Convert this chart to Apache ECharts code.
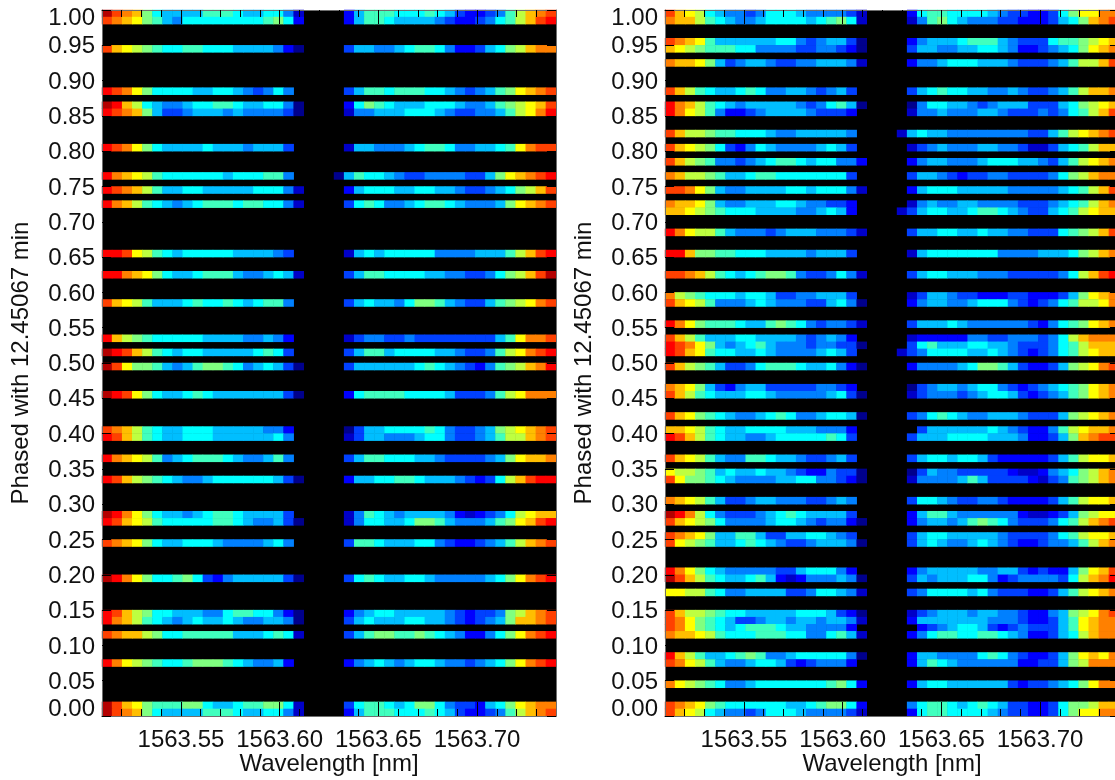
<!DOCTYPE html>
<html><head><meta charset="utf-8">
<style>html,body{margin:0;padding:0;background:#fff}#c{width:1115px;height:780px}</style>
<script src="https://cdn.jsdelivr.net/npm/echarts@6/dist/echarts.min.js"></script>
</head><body><div id="c"></div>
<script>
// Intensity per cell, one hex digit (0..f) on the jet scale, "." = no data.
const columnCount = 45, binCount = 100;
const leftBins = [99,98,94,88,86,85,80,76,74,72,65,62,58,53,51,49,45,40,39,36,33,28,27,24,19,14,13,11,7,1,0];
const leftBlueWing = ["fdcb8655557776556641","dcba8754666666667862","dba98766776665555420","edca866665566543464.","feb96544566776556640","edcb8533455545444430","edca865555655545553.","ecba976666665666774.","edcb9755665555566641","ecb97654567776776641","eeda976566666555543.","eecba865567775445651","dba9755567667656774.","eb98766666555544542.","fedb976566555556763.","fda88754578876456530","feda8655676555555530","dcb9765566655555442.","edb9765566655555564.","ecba974567776544574.","edb98765445666666530","feca865545677655553.","edba9766666776544530","dcba865566654444564.","feca8667863245555530","edb98665554467766420","ecb97654565565445540","dcbb9866777775556761","eca9876678887654452.","fdba8777886556778861","fdcb8655557776556641"];
const leftRedWing = ["257776667653223479bcd","257765555432234679bde","355445677642235689bcc","35776777665434578abcd","268765556665445789abd","144555666543344579ace","15544456776445567acdd","05766543344443358abcde","2566655665543345689bd","36764456776544458abcd","156566666444455579bde","357766665544334689bdf","356554688754335789acd","13443343333333357accd","35775666655433479acde","355555567654324789bce","26777766665333479accc","03556666764334589abcd","135544456643345799bcd","35776665543333458abbc","25566776555432369bdee","147654555542123469abb","14665568875444578abde","377655566432234579bcd","36765566544444568acde","245665555543233489bcd","35655566554323458bbcd","35788778765422468acde","24565456654434568acde","36776568864332568abcc","257776667653223479bcd"];
const rightBins = [99,98,95,94,92,88,86,85,82,80,78,76,74,72,71,68,65,62,59,58,55,53,52,51,49,46,45,42,40,39,36,34,33,30,28,27,25,24,20,19,17,14,13,12,11,8,7,4,1,0];
const rightBlueWing = ["dba96544346665444431","cbb97654456666567861","dcba7555555664345530","ba987776644443344320","cbba8534554334455541","db97655676445543453.","ecb97654555554346750","eca9742234555543332.","db99877666544555554.","dba9863246544445653.","db987443456776566442","cb99875567766666663.","ddca8544555566566641","cbba854455566544332.","bba9876665555445652.","eca99754443455544431","eeb8877666555545553.","ddcb9765678874334641","c987666566533445553.","dba97444565444335640","eca87776557876434431","db97555665555434542.","edca8545675444344330","edba766556544445653.","db987533467776556420","cba8532455333334432.","db976555665444445630","dba87654456764456650","bba9765566665554442.","edb9765544566666763.","dba9754477655433453.","a9987565565543224330","da887654444556644320","cba9753345544433454.","fec9643334567655553.","dba98644445665434420","dcba855775335566543.","da987556765433455540","eca8654444433566642.","fdb97655675212444540","aa997644555533466541","db998766555556665320","dca87653345545545541","dca8765677765544442.","cbba9766677766446751","eb975567874456666640","dca9754456653234442.","ca987644566666667862","dcba8766666655678862","dba96544346665444431"];
const rightRedWing = ["26776666543322368aacc","147865444332223568bcd","2455567775433367789ab","355445566542234568abc","2445666555433345799bd","356766554454334579bbc","0466554345553335689ab","1445444554333434679bd","156554444444433579abcd","1345444554431135679bb","245544456665543579abc","355432334433334689bcc","2566655555444445679bd","1454455444433345679bc","1356655677654335679abb","3556655655443336789bd","1566666664444555689bc","356655544433333469bde","135543322233222358abc","2455445666432346799ac","355565444444324678abc","12222244334443469bccc","367555665543334679bbb","1346666556543234679abb","244445688753223589acd","034554566432345678abc","134443456653234578abc","346765445554333589abc",".3555555654322479abbc","35556666555422358bcdd","356656653222223579aab","0354433333211245689bc","1444457533332134789bc","366543344322223579aab","2577544444421123589aa","245545787643334679bcd","356655555433334679aab","3565445654322344579bc","245555544553232258abd","354555664234444369bce","346666564333223579abc","134555455443224589acd","25555555444322357abcc",".2345665323433357abcc","246776677654223569bcc","25544446764322358abac","257654444442233589ccc","256655555532334568acc","4677656765332236889bb","26776666543322368aacc"];
const wavelengthLabels = [1563.55,1563.60,1563.65,1563.70];
const wavelengthMinor = [1563.52,1563.53,1563.54,1563.56,1563.57,1563.58,1563.59,1563.61,1563.62,1563.63,1563.64,1563.66,1563.67,1563.68,1563.69,1563.71,1563.72,1563.73];
const wavelengthMin = 1563.51, wavelengthMax = 1563.74;
const xTitle = "Wavelength [nm]", yTitle = "Phased with 12.45067 min";
const jet = ['#00008c','#0000c8','#0000ff','#0040ff','#0080ff','#00beff','#00ffff','#40ffbe','#80ff80','#beff40','#ffff00','#ffbe00','#ff8000','#ff4000','#ff0000','#b40000'];

function cells(bins, blue, red){
  const out = [];
  bins.forEach((bin, i) => {
    [...blue[i]].forEach((ch, c) => { if (ch !== '.') out.push([c, bin, parseInt(ch,16)]); });
    const r = red[i];
    [...r].forEach((ch, c) => { if (ch !== '.') out.push([columnCount - r.length + c, bin, parseInt(ch,16)]); });
  });
  return out;
}
const FONT = 'Liberation Sans';
const frame = {lineStyle:{color:'#6e6e6e',width:1}};
const panels = [
  {left:102, bins:leftBins, blue:leftBlueWing, red:leftRedWing},
  {left:665, bins:rightBins, blue:rightBlueWing, red:rightRedWing}
];
const textBase = {color:'#111', fontFamily:FONT, fontSize:24};
const grid=[], xAxis=[], yAxis=[], series=[];
panels.forEach((p, g) => {
  grid.push({left:p.left, top:10, width:454, height:706, show:true, backgroundColor:'#000', borderWidth:0, containLabel:false, outerBoundsMode:'none'});
  const xi = xAxis.length, yi = yAxis.length;
  xAxis.push({type:'category', gridIndex:g, show:false, data:Array.from({length:columnCount},(_, i)=>i)});
  const baseX = {type:'value', gridIndex:g, min:wavelengthMin, max:wavelengthMax, z:20, splitLine:{show:false}, axisLine:{show:true,onZero:false,...frame}};
  const tick = (vals,len)=>({show:true, inside:true, length:len, customValues:vals, lineStyle:{color:'#000',width:1}});
  xAxis.push({...baseX, position:'bottom', axisTick:tick(wavelengthLabels,14),
    axisLabel:{show:true, customValues:wavelengthLabels, formatter:v=>Number(v).toFixed(2), ...textBase, margin:12, hideOverlap:false},
    name:xTitle, nameLocation:'middle', nameGap:36, nameMoveOverlap:false, nameTextStyle:textBase});
  xAxis.push({...baseX, position:'bottom', axisTick:tick(wavelengthMinor,7), axisLabel:{show:false}});
  xAxis.push({...baseX, position:'top', axisTick:tick(wavelengthLabels,14), axisLabel:{show:false}});
  xAxis.push({...baseX, position:'top', axisTick:tick(wavelengthMinor,7), axisLabel:{show:false}});
  yAxis.push({type:'category', gridIndex:g, show:false, data:Array.from({length:binCount},(_, i)=>i)});
  const baseY = {type:'value', gridIndex:g, min:0, max:1, interval:0.05, z:20, splitLine:{show:false}, axisLine:{show:true,onZero:false,...frame},
    axisTick:{show:true, inside:true, length:9, lineStyle:{color:'#000',width:1}}};
  yAxis.push({...baseY, position:'left',
    axisLabel:{show:true, ...textBase, margin:7, showMinLabel:true, showMaxLabel:true, interval:0, hideOverlap:false,
      formatter:v=>{const s=v.toFixed(2); return v===0?`{up|${s}}`:v===1?`{down|${s}}`:`{mid|${s}}`;},
      rich:{mid:{...textBase, padding:[3,0,0,0]}, up:{...textBase, padding:[0,0,14,0]}, down:{...textBase, padding:[16,0,0,0]}}},
    name:yTitle, nameLocation:'middle', nameRotate:90, nameGap:69, nameMoveOverlap:false, nameTextStyle:textBase});
  yAxis.push({...baseY, position:'right', axisLabel:{show:false}});
  series.push({type:'heatmap', xAxisIndex:xi, yAxisIndex:yi, data:cells(p.bins,p.blue,p.red), silent:true, progressive:0, animation:false, emphasis:{disabled:true}, itemStyle:{borderWidth:0}});
});
const chart = echarts.init(document.getElementById('c'), null, {renderer:'canvas'});
chart.setOption({animation:false, backgroundColor:'#fff', textStyle:{fontFamily:FONT}, grid, xAxis, yAxis, series,
  visualMap:{type:'continuous', show:false, min:0, max:15, dimension:2, seriesIndex:[0,1], inRange:{color:jet}}});
</script></body></html>
